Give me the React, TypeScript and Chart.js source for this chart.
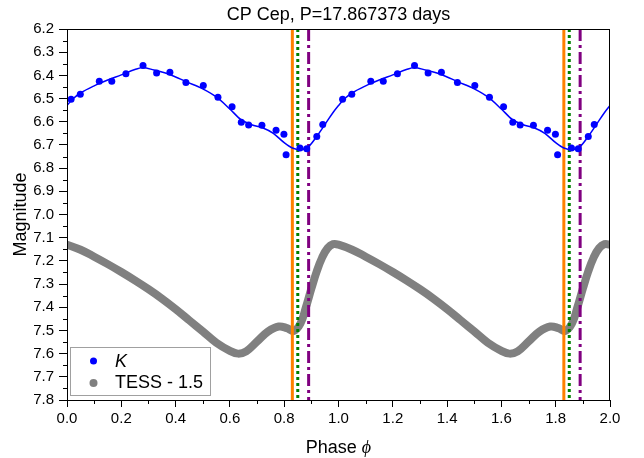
import React, { useEffect, useRef } from 'react';
import { Chart, registerables } from 'chart.js';

Chart.register(...registerables);

const FONT = '"Liberation Sans", Arial, sans-serif';

const titleText = 'CP Cep, P=17.867373 days';
const yTitle = 'Magnitude';
const xTitleMain = 'Phase ';
const xTitleSymbol = 'ϕ';
const legendK = 'K';
const legendTess = 'TESS - 1.5';

// K-band observations (phase, magnitude) over one cycle
const kPhase = [0.015, 0.049, 0.119, 0.165, 0.217, 0.28, 0.33, 0.379, 0.438, 0.502, 0.556, 0.608, 0.642, 0.669, 0.718, 0.77, 0.799, 0.807, 0.858, 0.883, 0.92, 0.942];
const kMag = [6.503, 6.481, 6.425, 6.425, 6.393, 6.357, 6.39, 6.387, 6.431, 6.444, 6.494, 6.535, 6.602, 6.614, 6.615, 6.637, 6.654, 6.742, 6.713, 6.716, 6.664, 6.612];

// K-band fitted curve over one cycle
const fitPhase = [0.0, 0.02, 0.05, 0.1, 0.15, 0.2, 0.25, 0.28, 0.32, 0.38, 0.44, 0.5, 0.55, 0.6, 0.64, 0.68, 0.72, 0.76, 0.8, 0.83, 0.86, 0.89, 0.92, 0.95, 0.98, 1.0];
const fitMag = [6.53, 6.503, 6.476, 6.445, 6.42, 6.398, 6.375, 6.366, 6.377, 6.397, 6.428, 6.458, 6.493, 6.545, 6.59, 6.613, 6.626, 6.65, 6.69, 6.713, 6.72, 6.707, 6.663, 6.612, 6.56, 6.53];

// TESS light curve (shifted by -1.5 mag) over one cycle
const tessPhase = [0.0, 0.05, 0.1, 0.15, 0.2, 0.25, 0.3, 0.35, 0.4, 0.45, 0.5, 0.55, 0.6, 0.63, 0.66, 0.7, 0.74, 0.78, 0.81, 0.835, 0.86, 0.88, 0.9, 0.92, 0.94, 0.96, 0.98, 1.0];
const tessMag = [7.13, 7.152, 7.182, 7.214, 7.248, 7.284, 7.322, 7.363, 7.408, 7.456, 7.504, 7.553, 7.588, 7.6, 7.59, 7.548, 7.505, 7.483, 7.49, 7.502, 7.47, 7.4, 7.32, 7.245, 7.185, 7.145, 7.128, 7.13];

const cycles = [0, 1];

// vertical marker phases
const orangePhases = [0.83, 1.83];
const greenPhases = [0.85, 1.85];
const purplePhases = [0.89, 1.89];

const xRange = [0, 2];
const yRange = [6.2, 7.8];
const xStep = 0.2;
const yStep = 0.1;

function fold(ph: number[], mag: number[]) {
  const out: { x: number; y: number }[] = [];
  cycles.forEach((c) =>
    ph.forEach((p, i) => {
      const x = +(p + c).toFixed(4);
      if (out.length && Math.abs(out[out.length - 1].x - x) < 1e-9) return;
      out.push({ x, y: mag[i] });
    })
  );
  return out;
}

function vline(p: number, color: string, dash: number[]) {
  return {
    data: [
      { x: p, y: yRange[0] },
      { x: p, y: yRange[1] },
    ],
    borderColor: color,
    borderWidth: 3,
    borderDash: dash,
    borderCapStyle: 'butt',
    pointRadius: 0,
    showLine: true,
    fill: false,
    tension: 0,
  };
}

const decorPlugin = {
  id: 'decor',
  afterDraw(chart: any) {
    const { ctx, chartArea } = chart;
    const { left, right, top, bottom } = chartArea;
    const xs = chart.scales.x;
    const ys = chart.scales.y;
    ctx.save();
    // frame
    ctx.strokeStyle = '#000';
    ctx.lineWidth = 1;
    ctx.strokeRect(Math.round(left) + 0.5, Math.round(top) + 0.5, Math.round(right - left) - 1, Math.round(bottom - top));
    // minor ticks
    ctx.beginPath();
    for (let v = xRange[0] + xStep / 2; v < xRange[1]; v += xStep) {
      const px = Math.round(xs.getPixelForValue(v)) + 0.5;
      ctx.moveTo(px, bottom);
      ctx.lineTo(px, bottom + 4);
    }
    for (let v = yRange[0] + yStep / 2; v < yRange[1]; v += yStep) {
      const py = Math.round(ys.getPixelForValue(v)) + 0.5;
      ctx.moveTo(left - 4, py);
      ctx.lineTo(left, py);
    }
    ctx.stroke();

    // title
    const cx = (left + right) / 2;
    ctx.fillStyle = '#000';
    ctx.textBaseline = 'middle';
    ctx.textAlign = 'center';
    ctx.font = '18px ' + FONT;
    ctx.fillText(titleText, cx, 15);

    // y title
    ctx.save();
    ctx.translate(21, (top + bottom) / 2);
    ctx.rotate(-Math.PI / 2);
    ctx.fillText(yTitle, 0, 0);
    ctx.restore();

    // x title with italic phi
    ctx.font = '18px ' + FONT;
    const w1 = ctx.measureText(xTitleMain).width;
    ctx.font = 'italic 18px "Liberation Serif", serif';
    const w2 = ctx.measureText(xTitleSymbol).width;
    const x0 = cx - (w1 + w2) / 2;
    ctx.textAlign = 'left';
    ctx.font = '18px ' + FONT;
    ctx.fillText(xTitleMain, x0, 448);
    ctx.font = 'italic 18px "Liberation Serif", serif';
    ctx.fillText(xTitleSymbol, x0 + w1, 448);

    // legend
    ctx.fillStyle = '#fff';
    ctx.fillRect(71, 348, 139, 47);
    ctx.strokeStyle = '#a0a0a0';
    ctx.strokeRect(70.5, 347.5, 140, 48);
    ctx.fillStyle = '#0000ff';
    ctx.beginPath();
    ctx.arc(93.5, 361, 3.5, 0, Math.PI * 2);
    ctx.fill();
    ctx.fillStyle = '#808080';
    ctx.beginPath();
    ctx.arc(93.5, 383, 4, 0, Math.PI * 2);
    ctx.fill();
    ctx.fillStyle = '#000';
    ctx.font = 'italic 18px ' + FONT;
    ctx.fillText(legendK, 115, 362);
    ctx.font = '18px ' + FONT;
    ctx.fillText(legendTess, 115, 383);
    ctx.restore();
  },
};

export default function App() {
  const ref = useRef<HTMLCanvasElement>(null);
  useEffect(() => {
    if (!ref.current) return;
    const datasets: any[] = [
      {
        label: legendK,
        data: fold(kPhase, kMag),
        showLine: false,
        pointRadius: 3.5,
        pointBackgroundColor: '#0000ff',
        pointBorderWidth: 0,
        borderColor: '#0000ff',
      },
      {
        label: 'fit',
        data: fold(fitPhase, fitMag),
        showLine: true,
        borderColor: '#0000ff',
        borderWidth: 1.5,
        pointRadius: 0,
        cubicInterpolationMode: 'monotone',
        fill: false,
      },
      ...orangePhases.map((p) => vline(p, '#ff8000', [])),
      ...greenPhases.map((p) => vline(p, '#008000', [3, 3])),
      ...purplePhases.map((p) => vline(p, '#800080', [12, 4, 3, 4])),
      {
        label: legendTess,
        data: fold(tessPhase, tessMag),
        showLine: true,
        borderColor: '#808080',
        borderWidth: 8,
        borderCapStyle: 'round',
        borderJoinStyle: 'round',
        pointRadius: 0,
        tension: 0.4,
        fill: false,
      },
    ];
    const chart = new Chart(ref.current, {
      type: 'line',
      data: { datasets },
      plugins: [decorPlugin],
      options: {
        responsive: false,
        animation: false,
        devicePixelRatio: 1,
        layout: { padding: { top: 29, left: 0, right: 34, bottom: 0 } },
        plugins: { legend: { display: false }, title: { display: false }, tooltip: { enabled: false } },
        scales: {
          x: {
            type: 'linear',
            min: xRange[0],
            max: xRange[1],
            afterFit: (s: any) => {
              s.height = 58;
            },
            ticks: {
              stepSize: xStep,
              color: '#000',
              font: { family: FONT, size: 15 },
              padding: 3,
              maxRotation: 0,
              callback: (v: any) => Number(v).toFixed(1),
            },
            grid: { drawOnChartArea: false, drawTicks: true, tickLength: 7, tickColor: '#000', tickWidth: 1 },
            border: { display: true, color: '#000', width: 1 },
          },
          y: {
            type: 'linear',
            reverse: true,
            min: yRange[0],
            max: yRange[1],
            afterFit: (s: any) => {
              s.width = 67;
            },
            ticks: {
              stepSize: yStep,
              color: '#000',
              font: { family: FONT, size: 15 },
              padding: 5,
              callback: (v: any) => Number(v).toFixed(1),
            },
            grid: { drawOnChartArea: false, drawTicks: true, tickLength: 8, tickColor: '#000', tickWidth: 1 },
            border: { display: true, color: '#000', width: 1 },
          },
        },
      } as any,
    });
    return () => chart.destroy();
  }, []);
  return (
    <div style={{ position: 'fixed', left: 0, top: 0, width: 644, height: 458, background: '#fff' }}>
      <canvas ref={ref} width={644} height={458} />
    </div>
  );
}
